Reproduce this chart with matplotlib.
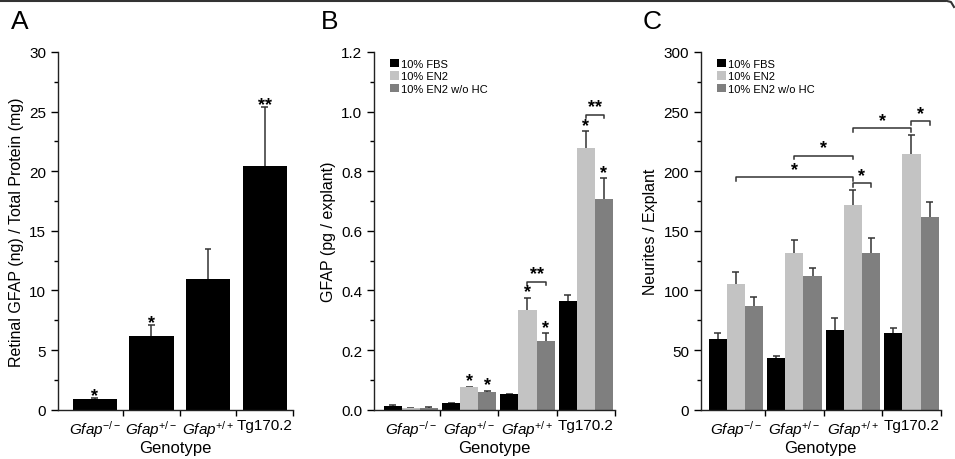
import numpy as np
import matplotlib.pyplot as plt
from matplotlib.patches import Patch
from matplotlib.lines import Line2D

plt.rcParams['font.family'] = ['Liberation Sans', 'DejaVu Sans']
plt.rcParams['mathtext.fontset'] = 'custom'
plt.rcParams['mathtext.rm'] = 'Liberation Sans'
plt.rcParams['mathtext.it'] = 'Liberation Sans:italic'

genotypes = [r'$\mathit{Gfap}^{-/-}$', r'$\mathit{Gfap}^{+/-}$', r'$\mathit{Gfap}^{+/+}$', 'Tg170.2']
series_names = ['10% FBS', '10% EN2', '10% EN2 w/o HC']

# panel A: retinal GFAP
a_mean = [0.9, 6.15, 11.0, 20.4]
a_err = [0.1, 0.95, 2.5, 5.0]
a_stars = ['*', '*', '', '**']

# panel B: GFAP per explant
b_fbs = [0.013, 0.022, 0.052, 0.366]
b_fbs_err = [0.003, 0.0015, 0.002, 0.019]
b_en2 = [0.0045, 0.075, 0.336, 0.877]
b_en2_err = [0.002, 0.002, 0.039, 0.057]
b_hc = [0.0067, 0.060, 0.229, 0.706]
b_hc_err = [0.002, 0.003, 0.028, 0.071]
b_en2_stars = ['', '*', '*', '*']
b_hc_stars = ['', '*', '*', '*']
# (group, y, label) bracket en2 -> w/o HC
b_brackets = [(2, 0.43, '**'), (3, 0.99, '**')]

# panel C: neurites per explant
c_fbs = [59.3, 43.1, 67.2, 64.1]
c_fbs_err = [5.3, 1.9, 9.5, 4.2]
c_en2 = [105.5, 131.5, 171.3, 214.7]
c_en2_err = [9.8, 11.2, 12.9, 15.3]
c_hc = [86.8, 112.5, 131.5, 162.0]
c_hc_err = [8.1, 6.2, 12.4, 12.0]
# (from bar, to bar, y) ; bar = (group, series)
c_brackets = [((0, 1), (2, 1), 195), ((1, 1), (2, 1), 213), ((2, 1), (3, 1), 236),
              ((2, 1), (2, 2), 190), ((3, 1), (3, 2), 242)]

colors = ['#000000', '#c3c3c3', '#7f7f7f']
err_color = '#333333'

fig = plt.figure(figsize=(9.55, 4.6), dpi=100)
W, H = 955, 460


def make_axes(left, right, top=53, bottom=410.7):
    return fig.add_axes([left / W, (H - bottom) / H, (right - left) / W, (bottom - top) / H])


def style(ax, ymax, major, minor, ylabel, xmin):
    ax.set_xlim(xmin, 3.5)
    ax.set_ylim(0, ymax)
    ax.spines['top'].set_visible(False)
    ax.spines['right'].set_visible(False)
    for s in ['left', 'bottom']:
        ax.spines[s].set_linewidth(1.0)
        ax.spines[s].set_color('#222222')
    ax.set_yticks(np.arange(0, ymax + major / 2, major))
    ax.set_yticks(np.arange(0, ymax + minor / 2, minor), minor=True)
    ax.tick_params(axis='y', which='major', length=5, width=1, labelsize=11, direction='out')
    ax.tick_params(axis='y', which='minor', length=3, width=1, direction='out')
    ax.set_xticks([0.5, 1.5, 2.5, 3.5])
    ax.set_xticklabels([])
    ax.tick_params(axis='x', which='major', length=4, width=1, direction='out')
    ax.set_xticks([0, 1, 2, 3], minor=True)
    ax.set_xticklabels(genotypes, minor=True, fontsize=11)
    ax.tick_params(axis='x', which='minor', length=0, pad=6)
    ax.set_ylabel(ylabel, fontsize=11.5)
    ax.set_xlabel('Genotype', fontsize=12, labelpad=1)


def bars(ax, x, vals, errs, color, width):
    vals = np.asarray(vals)
    tops = vals + np.asarray(errs)
    ax.bar(x, vals, width=width, color=color, edgecolor='none', zorder=2)
    ax.vlines(x, vals, tops, color=err_color, lw=1.1, zorder=1)
    ax.hlines(tops, x - 0.06, x + 0.06, color=err_color, lw=1.1, zorder=1)


def bracket(ax, x1, x2, y, label, drop, off):
    ax.plot([x1, x1, x2, x2], [y - drop, y, y, y - drop], color='#333333', lw=1.1)
    ax.text((x1 + x2) / 2, y + off, label, ha='center', va='center', fontsize=13, fontweight='bold')


# ---- A
axA = make_axes(58, 293)
x = np.arange(4)
bars(axA, x, a_mean, a_err, '#000000', 0.78)
for i, s in enumerate(a_stars):
    if s:
        axA.text(i, a_mean[i] + a_err[i] + 0.2, s, ha='center', va='center', fontsize=13, fontweight='bold')
style(axA, 30, 5, 2.5, 'Retinal GFAP (ng) / Total Protein (mg)', -0.65)

# ---- B
axB = make_axes(374, 615)
w = 0.31
for k, (vals, errs) in enumerate([(b_fbs, b_fbs_err), (b_en2, b_en2_err), (b_hc, b_hc_err)]):
    bars(axB, x + (k - 1) * w, vals, errs, colors[k], w)
for i in range(4):
    if b_en2_stars[i]:
        axB.text(i, b_en2[i] + b_en2_err[i] + 0.02, '*', ha='center', va='center', fontsize=13, fontweight='bold')
    if b_hc_stars[i]:
        axB.text(i + w, b_hc[i] + b_hc_err[i] + 0.02, '*', ha='center', va='center', fontsize=13, fontweight='bold')
for g, y, lab in b_brackets:
    bracket(axB, g, g + w, y, lab, 0.012, 0.027)
style(axB, 1.2, 0.2, 0.1, 'GFAP (pg / explant)', -0.63)
axB.yaxis.set_major_formatter(plt.FormatStrFormatter('%.1f'))

# ---- C
axC = make_axes(700.7, 940.7)
for k, (vals, errs) in enumerate([(c_fbs, c_fbs_err), (c_en2, c_en2_err), (c_hc, c_hc_err)]):
    bars(axC, x + (k - 1) * w, vals, errs, colors[k], w)
for (g1, s1), (g2, s2), y in c_brackets:
    bracket(axC, g1 + (s1 - 1) * w, g2 + (s2 - 1) * w, y, '*', 3, 6.5)
style(axC, 300, 50, 25, 'Neurites / Explant', -0.6)

handles = [Patch(facecolor=c, edgecolor='none') for c in colors]
for ax in (axB, axC):
    ax.legend(handles, series_names, loc='upper left', bbox_to_anchor=(0.04, 1.0), frameon=False,
              fontsize=8, handlelength=0.8, handleheight=0.8, handletextpad=0.2,
              labelspacing=0.22, borderaxespad=0.2)

# panel letters
for lx, lab in [(20, 'A'), (330, 'B'), (652, 'C')]:
    fig.text(lx / W, 1 - 22 / H, lab, ha='center', va='center', fontsize=19)

# page frame at the top
fig.add_artist(Line2D([0, 945 / W], [1 - 1.5 / H, 1 - 1.5 / H], color='#333333', lw=1.5))
fig.add_artist(Line2D([945 / W, 951 / W, 954 / W], [1 - 1.5 / H, 1 - 3 / H, 1 - 8 / H], color='#333333', lw=1.5))

fig.savefig('out.png', dpi=100)
